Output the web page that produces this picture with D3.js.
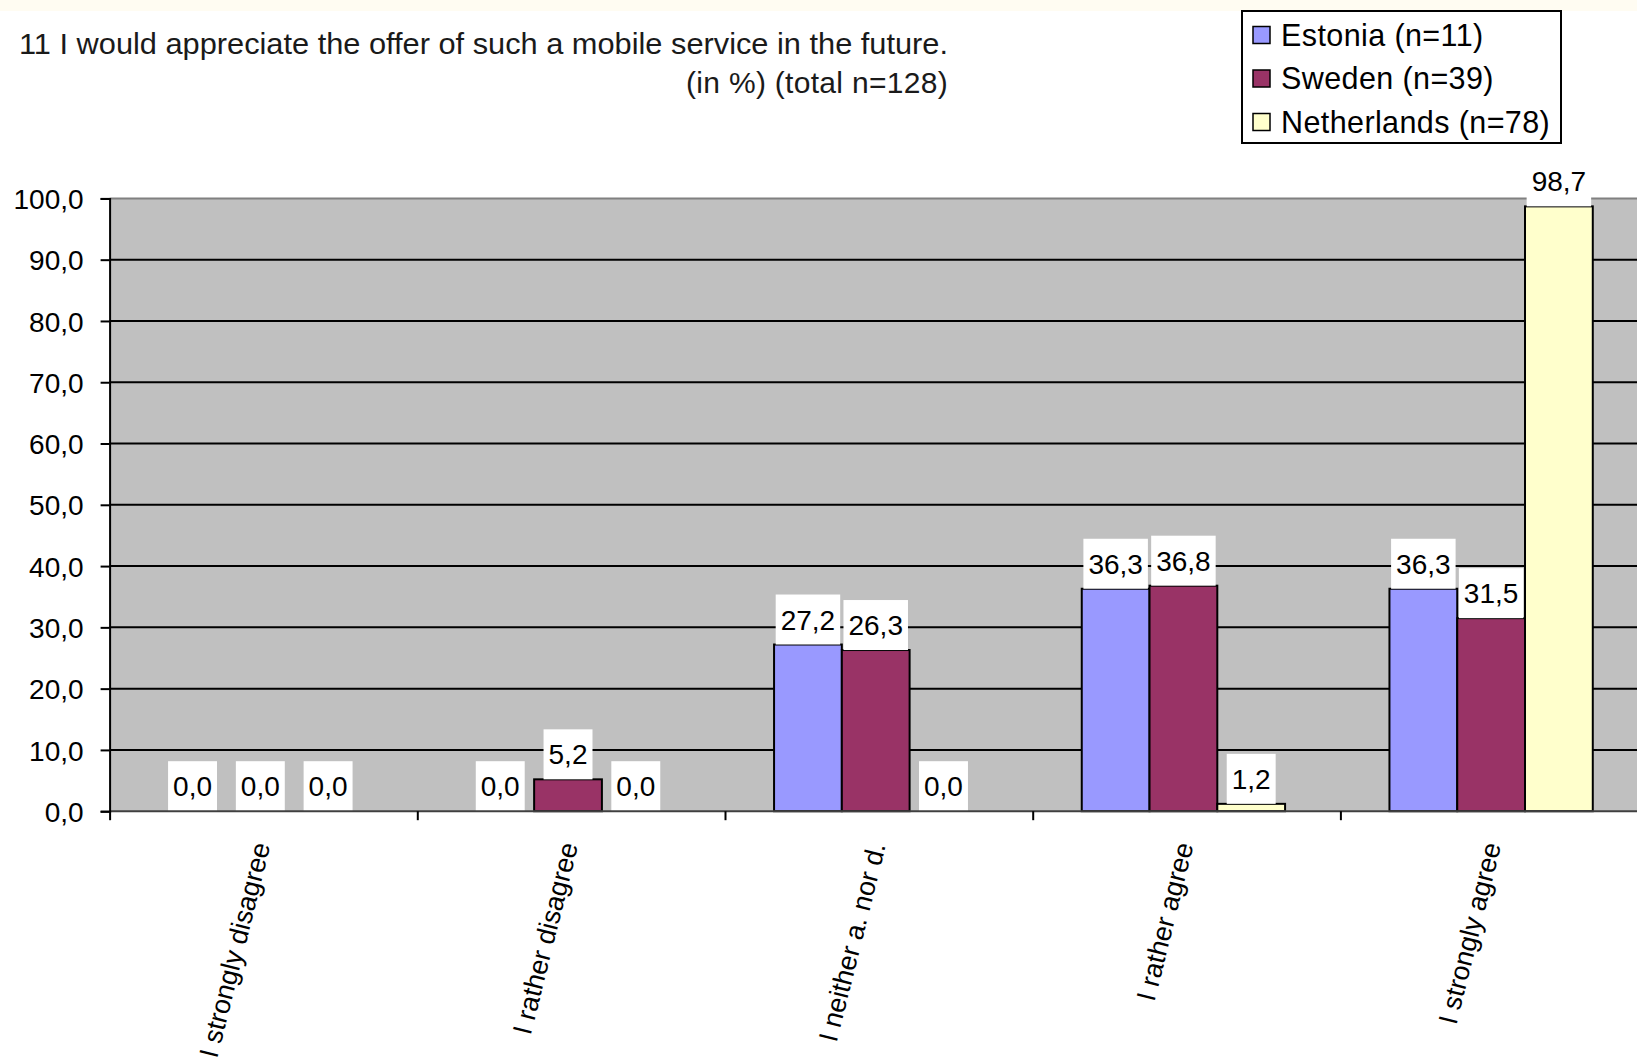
<!DOCTYPE html>
<html>
<head>
<meta charset="utf-8">
<script src="https://cdn.jsdelivr.net/npm/d3@7"></script>
<style>
  body { margin: 0; background: #ffffff; }
  svg { display: block; font-family: "Liberation Sans", Arial, sans-serif; }
  .tick text { font-family: "Liberation Sans", Arial, sans-serif; }
</style>
</head>
<body>
<div id="chart"></div>
<script>
const categories = ["I strongly disagree", "I rather disagree", "I neither a. nor d.", "I rather agree", "I strongly agree"];
const seriesNames = ["Estonia (n=11)", "Sweden (n=39)", "Netherlands (n=78)"];
const estonia = [0.0, 0.0, 27.2, 36.3, 36.3];
const sweden = [0.0, 5.2, 26.3, 36.8, 31.5];
const netherlands = [0.0, 0.0, 0.0, 1.2, 98.7];
const yTicks = [0, 10, 20, 30, 40, 50, 60, 70, 80, 90, 100];
const titleLines = ["11 I would appreciate the offer of such a mobile service in the future.", "(in %) (total n=128)"];
const colors = ["#9999FF", "#993366", "#FFFFCC"];

const width = 1637;
const height = 1062;
const plotLeft = 109.6;
const plotTop = 198.4;
const plotBottom = 811.2;
const catStep = 307.7;

const locale = d3.formatLocale({ decimal: ",", thousands: ".", grouping: [3], currency: ["", ""] });
const fmt = locale.format(".1f");

const rows = categories.map((c, i) => ({
  category: c,
  values: [estonia[i], sweden[i], netherlands[i]]
}));

const svg = d3.select("#chart")
  .append("svg")
  .attr("width", width)
  .attr("height", height);

// cream strip at the very top
svg.append("rect")
  .attr("x", 0).attr("y", 0)
  .attr("width", width).attr("height", 11)
  .attr("fill", "#FFFCF2");

const x = d3.scaleBand()
  .domain(categories)
  .range([plotLeft, plotLeft + catStep * categories.length])
  .padding(0);

const xInner = d3.scaleBand()
  .domain(seriesNames)
  .range([0, x.bandwidth()])
  .paddingInner(0)
  .paddingOuter(0.77)
  .align(0.47);

const y = d3.scaleLinear()
  .domain([0, 100])
  .range([plotBottom, plotTop]);

// plot area
svg.append("rect")
  .attr("x", plotLeft)
  .attr("y", plotTop)
  .attr("width", catStep * categories.length)
  .attr("height", plotBottom - plotTop)
  .attr("fill", "#C0C0C0");

svg.append("line")
  .attr("x1", plotLeft).attr("x2", width)
  .attr("y1", plotTop).attr("y2", plotTop)
  .attr("stroke", "#808080")
  .attr("stroke-width", 2);

// gridlines
svg.append("g")
  .selectAll("line")
  .data(yTicks.filter(t => t > 0 && t < 100))
  .join("line")
  .attr("x1", plotLeft).attr("x2", width)
  .attr("y1", d => y(d)).attr("y2", d => y(d))
  .attr("stroke", "#000")
  .attr("stroke-width", 2);

// bars
const groups = svg.append("g")
  .selectAll("g")
  .data(rows)
  .join("g")
  .attr("transform", d => `translate(${x(d.category)},0)`);

groups.selectAll("rect")
  .data(d => d.values.map((v, j) => ({ name: seriesNames[j], value: v, color: colors[j] })))
  .join("rect")
  .filter(d => d.value > 0)
  .attr("x", d => xInner(d.name))
  .attr("y", d => y(d.value))
  .attr("width", xInner.bandwidth())
  .attr("height", d => y(0) - y(d.value))
  .attr("fill", d => d.color)
  .attr("stroke", "#000")
  .attr("stroke-width", 2);

// baseline
svg.append("line")
  .attr("x1", plotLeft).attr("x2", width)
  .attr("y1", plotBottom).attr("y2", plotBottom)
  .attr("stroke", "#404040")
  .attr("stroke-width", 2);

// value labels on white boxes
const labels = groups.selectAll(".value-label")
  .data(d => d.values.map((v, j) => ({ name: seriesNames[j], value: v })))
  .join("g")
  .attr("class", "value-label");

labels.each(function(d) {
  const g = d3.select(this);
  const cx = xInner(d.name) + xInner.bandwidth() / 2;
  const boxH = 50;
  const top = y(d.value) - boxH;
  const t = g.append("text")
    .attr("x", cx)
    .attr("y", top + boxH / 2 + 10)
    .attr("text-anchor", "middle")
    .attr("font-size", 28)
    .attr("fill", "#000")
    .text(fmt(d.value));
  const w = t.node().getComputedTextLength() + 10;
  g.insert("rect", "text")
    .attr("x", cx - w / 2)
    .attr("y", top)
    .attr("width", w)
    .attr("height", boxH)
    .attr("fill", "#fff");
});

// y axis
svg.append("g")
  .attr("transform", `translate(${plotLeft},0)`)
  .call(d3.axisLeft(y).tickValues(yTicks).tickFormat(fmt).tickSize(9).tickPadding(17))
  .call(g => g.select(".domain").attr("stroke", "#000").attr("stroke-width", 2))
  .call(g => g.selectAll(".tick line").attr("stroke", "#000").attr("stroke-width", 2))
  .call(g => g.selectAll(".tick text").attr("font-size", 28).attr("fill", "#000").attr("dy", "0.36em"));

// x axis ticks at category boundaries
const xEdge = d3.scaleLinear()
  .domain([0, categories.length])
  .range([plotLeft, plotLeft + catStep * categories.length]);

svg.append("g")
  .attr("transform", `translate(0,${plotBottom})`)
  .call(d3.axisBottom(xEdge).tickValues(d3.range(categories.length + 1)).tickFormat("").tickSize(9))
  .call(g => g.select(".domain").remove())
  .call(g => g.selectAll(".tick line").attr("stroke", "#000").attr("stroke-width", 2));

// category labels
svg.append("g")
  .selectAll("text")
  .data(categories)
  .join("text")
  .attr("transform", d => `translate(${x(d) + x.bandwidth() / 2 + 7},${plotBottom + 34}) rotate(-76)`)
  .attr("text-anchor", "end")
  .attr("font-size", 27)
  .attr("fill", "#000")
  .text(d => d);

// title
svg.append("text")
  .attr("x", 19)
  .attr("y", 54)
  .attr("font-size", 30)
  .attr("fill", "#1a1a1a")
  .attr("textLength", 929)
  .attr("lengthAdjust", "spacingAndGlyphs")
  .text(titleLines[0]);

svg.append("text")
  .attr("x", 948)
  .attr("y", 93)
  .attr("text-anchor", "end")
  .attr("font-size", 30)
  .attr("fill", "#1a1a1a")
  .attr("letter-spacing", 0.3)
  .text(titleLines[1]);

// legend
const legend = svg.append("g");
legend.append("rect")
  .attr("x", 1242).attr("y", 11)
  .attr("width", 319).attr("height", 132)
  .attr("fill", "#fff")
  .attr("stroke", "#000")
  .attr("stroke-width", 2);

const items = legend.selectAll(".item")
  .data(seriesNames)
  .join("g")
  .attr("class", "item")
  .attr("transform", (d, i) => `translate(1253,${35 + i * 43.5})`);

items.append("rect")
  .attr("x", 0).attr("y", -8.5)
  .attr("width", 17).attr("height", 17)
  .attr("fill", (d, i) => colors[i])
  .attr("stroke", "#000")
  .attr("stroke-width", 1.5);

items.append("text")
  .attr("x", 28)
  .attr("y", 10.5)
  .attr("font-size", 30.5)
  .attr("letter-spacing", 0.4)
  .attr("fill", "#000")
  .text(d => d);
</script>
</body>
</html>
